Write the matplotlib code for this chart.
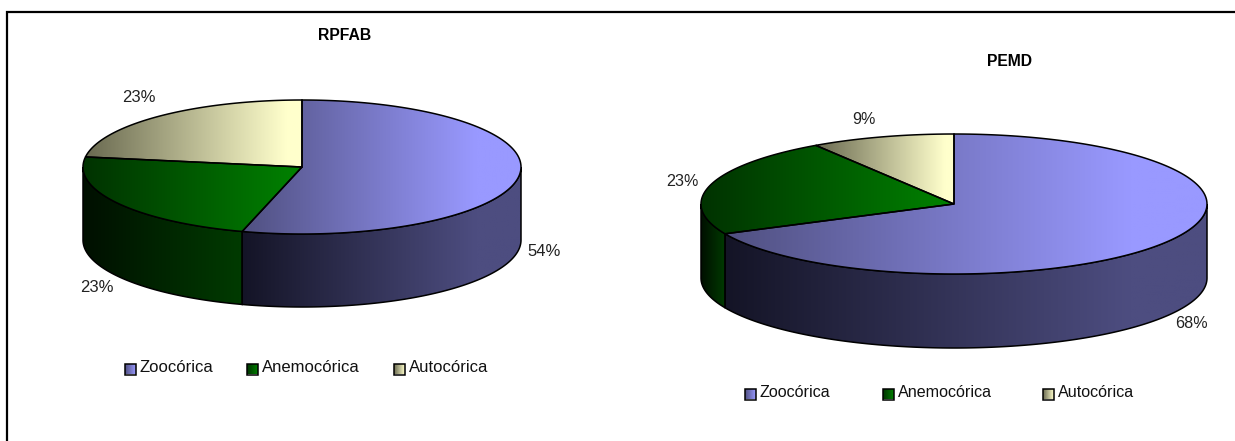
import numpy as np
import matplotlib
matplotlib.use('Agg')
import matplotlib.pyplot as plt
from matplotlib.path import Path
from matplotlib.patches import PathPatch

plt.rcParams['font.family'] = ['Liberation Sans', 'DejaVu Sans']

# data
categories = ['Zoocórica', 'Anemocórica', 'Autocórica']
rpfab_values = [54.4, 23.0, 22.6]
pemd_values = [68.0, 22.8, 9.2]

# colours: (dark end, light end) of the gradients
top_colors = [((80, 80, 128), (153, 153, 255)),
              ((0, 50, 0), (0, 128, 0)),
              ((105, 105, 80), (255, 255, 204))]
side_colors = [((20, 20, 38), (77, 77, 128)),
               ((0, 15, 0), (0, 58, 0)),
               ((60, 60, 40), (128, 128, 102))]
# where the ramp stops, as a share of the wedge width
ramp_ends = [0.84, 0.97, 0.93]

fig = plt.figure(figsize=(12.35, 4.41), dpi=100)
ax = fig.add_axes([0, 0, 1, 1])
ax.axis('off')


def gradient_fill(path, colors, zorder, flat=0.85):
    # fill a path with a left to right gradient, flat past the end of the ramp
    patch = PathPatch(path, facecolor='none', edgecolor='black', lw=1.1, zorder=zorder + 0.5)
    ax.add_patch(patch)
    x0, y0 = path.vertices.min(axis=0)
    x1, y1 = path.vertices.max(axis=0)
    t = np.clip(np.linspace(0, 1, 256) / flat, 0, 1)
    c0 = np.array(colors[0]) / 255
    c1 = np.array(colors[1]) / 255
    img = c0 + (c1 - c0) * t[:, None]
    im = ax.imshow(img[None, :, :], extent=(x0, x1, y1, y0), aspect='auto',
                   interpolation='bilinear', zorder=zorder)
    im.set_clip_path(patch)


def draw_pie(values, cx, cy, rx, ry, depth):
    edges = np.cumsum([0] + values) / sum(values) * 2 * np.pi

    def arc(a, b):
        t = np.linspace(a, b, 200)
        return np.column_stack([cx + rx * np.sin(t), cy - ry * np.cos(t)])

    # side walls, only the part below the centre line shows
    for i in range(len(values)):
        a = max(edges[i], np.pi / 2)
        b = min(edges[i + 1], 3 * np.pi / 2)
        if b <= a:
            continue
        front = arc(a, b)
        back = front[::-1] + [0, depth]
        gradient_fill(Path(np.vstack([front, back, front[:1]]), closed=True), side_colors[i], 2, ramp_ends[i])

    # top faces
    for i in range(len(values)):
        pts = np.vstack([[[cx, cy]], arc(edges[i], edges[i + 1]), [[cx, cy]]])
        gradient_fill(Path(pts, closed=True), top_colors[i], 4, ramp_ends[i])


def draw_legend(xs, text_xs, y, fontsize):
    for i, name in enumerate(categories):
        verts = np.array([[xs[i], y - 5.5], [xs[i] + 10.5, y - 5.5],
                          [xs[i] + 10.5, y + 5.5], [xs[i], y + 5.5], [xs[i], y - 5.5]])
        gradient_fill(Path(verts, closed=True), top_colors[i], 4, flat=1.0)
        ax.text(text_xs[i], y - 1.5, name, fontsize=fontsize, va='center', ha='left', color='#111111')


draw_pie(rpfab_values, 302, 167, 219, 67, 73)
draw_pie(pemd_values, 954, 204, 253, 70, 74)

# frame: only the left and top lines are in the picture
ax.plot([7, 7, 1235], [441, 11.5, 11.5], color='black', lw=1.6, zorder=1, solid_joinstyle='miter')

ax.text(345, 35, 'RPFAB', fontsize=11.3, fontweight='bold', ha='center', va='center')
ax.text(1009, 61, 'PEMD', fontsize=11.3, fontweight='bold', ha='center', va='center')

rpfab_label_pos = [(544, 251), (97, 288), (139, 97)]
pemd_label_pos = [(1191, 324), (682, 181), (864, 120)]
for v, (x, y) in zip(rpfab_values, rpfab_label_pos):
    ax.text(x, y, f'{v:.0f}%', fontsize=12, ha='center', va='center', color='#222222')
for v, (x, y) in zip(pemd_values, pemd_label_pos):
    ax.text(x, y, f'{v:.0f}%', fontsize=11.6, ha='center', va='center', color='#222222')

draw_legend([125, 247, 394], [140, 262, 409], 369, 12)
draw_legend([745, 883, 1043], [760, 898, 1058], 394, 11.6)

ax.set_xlim(0, 1235)
ax.set_ylim(441, 0)

fig.savefig('out.png', dpi=100, facecolor='white')
